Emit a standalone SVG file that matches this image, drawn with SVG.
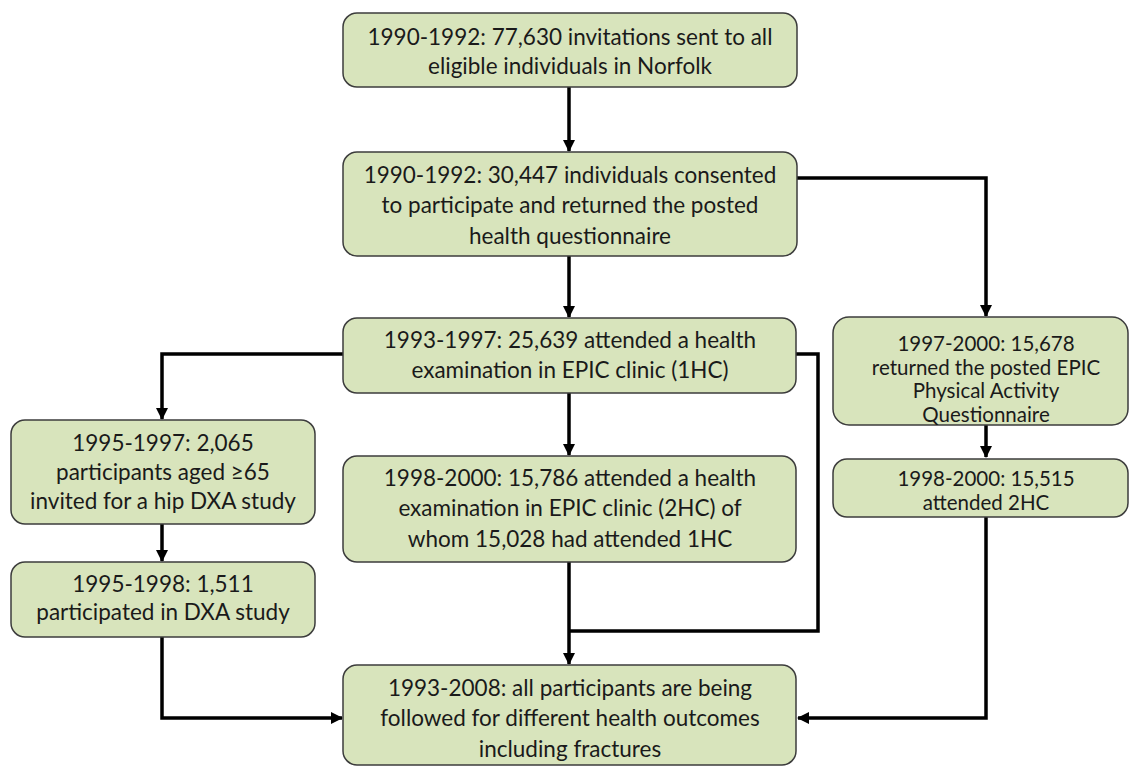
<svg xmlns="http://www.w3.org/2000/svg" width="1130" height="767" viewBox="0 0 1130 767">
<style>
.box{fill:#d8e4bc;stroke:#3c3c3c;stroke-width:1.5}
.t{font-family:Lato,"Open Sans",sans-serif;font-size:22.5px;fill:#1a1a1a;text-anchor:middle}
.s{font-size:20.5px}
.c{fill:none;stroke:#000;stroke-width:3.5}
</style>
<defs>
<marker id="ah" markerUnits="userSpaceOnUse" markerWidth="12" markerHeight="12" viewBox="0 0 12 12" refX="11" refY="6" orient="auto">
<path d="M0,0 L12,6 L0,12 Z" fill="#000"/>
</marker>
</defs>
<rect width="1130" height="767" fill="#fff"/>
<g id="connectors">
<path class="c" d="M569,87 V151" marker-end="url(#ah)"/>
<path class="c" d="M569,256 V317" marker-end="url(#ah)"/>
<path class="c" d="M569,393 V455" marker-end="url(#ah)"/>
<path class="c" d="M569,562 V664" marker-end="url(#ah)"/>
<path class="c" d="M796,354 H818 V631 H569"/>
<path class="c" d="M343,354 H162 V419" marker-end="url(#ah)"/>
<path class="c" d="M162,524 V561" marker-end="url(#ah)"/>
<path class="c" d="M162,637 V718 H342" marker-end="url(#ah)"/>
<path class="c" d="M797,178 H986 V316" marker-end="url(#ah)"/>
<path class="c" d="M986,425 V457" marker-end="url(#ah)"/>
<path class="c" d="M986,517 V718 H798" marker-end="url(#ah)"/>
</g>
<g id="n1">
<rect class="box" x="343" y="13" width="454" height="74" rx="14"/>
<text class="t" x="570" y="45">1990-1992: 77,630 invitations sent to all</text>
<text class="t" x="570" y="74">eligible individuals in Norfolk</text>
</g>
<g id="n2">
<rect class="box" x="343" y="152" width="454" height="104" rx="14"/>
<text class="t" x="570" y="183">1990-1992: 30,447 individuals consented</text>
<text class="t" x="570" y="213">to participate and returned the posted</text>
<text class="t" x="570" y="244">health questionnaire</text>
</g>
<g id="n3">
<rect class="box" x="343" y="318" width="453" height="75" rx="14"/>
<text class="t" x="570" y="348">1993-1997: 25,639 attended a health</text>
<text class="t" x="570" y="378">examination in EPIC clinic (1HC)</text>
</g>
<g id="n4">
<rect class="box" x="343" y="456" width="453" height="106" rx="14"/>
<text class="t" x="570" y="486">1998-2000: 15,786 attended a health</text>
<text class="t" x="570" y="516">examination in EPIC clinic (2HC) of</text>
<text class="t" x="570" y="547">whom 15,028 had attended 1HC</text>
</g>
<g id="n5">
<rect class="box" x="343" y="665" width="453" height="100" rx="14"/>
<text class="t" x="570" y="696">1993-2008: all participants are being</text>
<text class="t" x="570" y="726">followed for different health outcomes</text>
<text class="t" x="570" y="757">including fractures</text>
</g>
<g id="n6">
<rect class="box" x="11" y="420" width="304" height="104" rx="14"/>
<text class="t" x="163" y="451">1995-1997: 2,065</text>
<text class="t" x="163" y="480">participants aged ≥65</text>
<text class="t" x="163" y="509">invited for a hip DXA study</text>
</g>
<g id="n7">
<rect class="box" x="11" y="562" width="304" height="75" rx="14"/>
<text class="t" x="163" y="592">1995-1998: 1,511</text>
<text class="t" x="163" y="620">participated in DXA study</text>
</g>
<g id="n8">
<rect class="box" x="833" y="317" width="295" height="108" rx="16"/>
<text class="t s" x="986" y="351">1997-2000: 15,678</text>
<text class="t s" x="986" y="374.5">returned the posted EPIC</text>
<text class="t s" x="986" y="398">Physical Activity</text>
<text class="t s" x="986" y="421.5">Questionnaire</text>
</g>
<g id="n9">
<rect class="box" x="833" y="459" width="295" height="58" rx="14"/>
<text class="t s" x="986" y="486">1998-2000: 15,515</text>
<text class="t s" x="986" y="509.5">attended 2HC</text>
</g>
</svg>
